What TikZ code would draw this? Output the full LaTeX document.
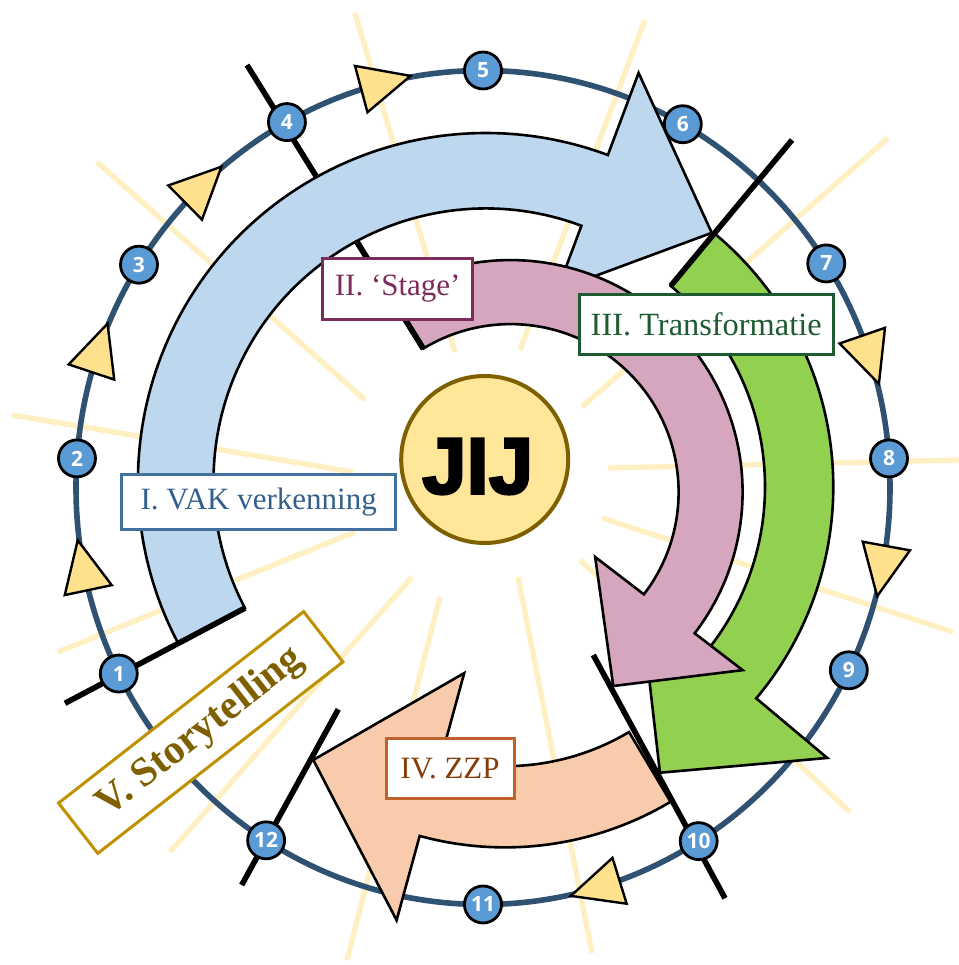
\documentclass[tikz,border=0pt]{standalone}
\usepackage{fontspec}
\setmainfont{Liberation Serif}
\newfontfamily\numfont{Open Sans}
\newfontfamily\jijfont{Liberation Sans}[UprightFont={* Bold}, FakeBold=3]

\definecolor{ringblue}{HTML}{2F5273}
\definecolor{numblue}{HTML}{5B9BD5}
\definecolor{raycol}{HTML}{FFF0C4}
\definecolor{tricol}{HTML}{FFE08C}
\definecolor{vakfill}{HTML}{BDD7EE}
\definecolor{vakline}{HTML}{41719C}
\definecolor{vaktext}{HTML}{335F8C}
\definecolor{stagefill}{HTML}{D5A6BD}
\definecolor{stageline}{HTML}{7B2C5B}
\definecolor{trafill}{HTML}{92D050}
\definecolor{traline}{HTML}{1E5B30}
\definecolor{zzpfill}{HTML}{F8CBAD}
\definecolor{zzpline}{HTML}{C0622B}
\definecolor{zzptext}{HTML}{843C0C}
\definecolor{storyline}{HTML}{BF9000}
\definecolor{storytext}{HTML}{7F6000}
\definecolor{jijfill}{HTML}{FFE699}

\tikzset{
  ray/.style={raycol, line width=2.7pt},
  ring/.style={ringblue, line width=2.8pt},
  tri/.style={fill=tricol, draw=black, line width=1.2pt, line join=miter},
  tick/.style={black, line width=2.8pt},
  band/.style={draw=black, line width=1.3pt, line join=miter},
  num/.style={circle, fill=numblue, draw=black, line width=1.4pt, minimum size=18.5pt,
    inner sep=0pt, text=white, font=\numfont\bfseries\fontsize{10.5}{10.5}\selectfont},
  lbl/.style={rectangle, fill=white, line width=1.5pt, inner sep=0pt,
    font=\fontsize{15.5}{15.5}\selectfont},
  jij/.style={circle, fill=jijfill, draw=storytext, line width=2pt, minimum size=83.5pt,
    inner sep=0pt, font=\jijfont\fontsize{40}{40}\selectfont},
}

\begin{document}
\begin{tikzpicture}[x=0.5pt, y=0.5pt]
\useasboundingbox (0,0) rectangle (959,965);

% sun rays behind everything
\foreach \xa/\ya/\xb/\yb in {353/493/12/550, 365/565/97/803, 455/613/355/952,
    520/615/645/945, 582/558/888/827, 608/497/959/505, 602/447/953/333,
    580/405/850/153, 518/388/592/12, 440/368/347/5, 412/388/170/113, 355/433/58/313}
  \draw[ray] (\xa,\ya) -- (\xb,\yb);

\draw[ring] (483,477.5) ellipse [x radius=407, y radius=417];

\begin{scope}[shift={(483,477.5)}]
  \foreach \a/\n in {206.5/1,176/2,147.7/3,118.8/4,90/5,60.6/6,32.5/7,4/8,-26/9,-58/10,-90/11,-122.2/12}
    \coordinate (c\n) at (\a:407 and 417);
  \foreach \a in {105,134.6,161.6,191.9,19,-10.4,-72.8}
    \draw[tri, shift={(\a:407 and 417)}, rotate=\a-90] (34,0) -- (-17,24) -- (-17,-24) -- cycle;
\end{scope}

\coordinate (t1) at (65,261.7);
\coordinate (t4) at (247,900);
\coordinate (t4m) at (356.5,723.8);
\coordinate (t6) at (792,825);
\coordinate (t10a) at (593.3,310);
\coordinate (t10b) at (725,66.7);
\coordinate (t12a) at (338.3,255.7);
\coordinate (t12b) at (241.7,80);

\draw[tick] (t4) -- (423.3,616.4);

% I. VAK verkenning
\draw[band, fill=vakfill, shift={(486,484)}]
  (207.8:348) arc[start angle=207.8, end angle=69.5, radius=348]
  -- (69.5:435.7) -- (47.7:335.5) -- (69.5:204) -- (69.5:272.5)
  arc[start angle=69.5, end angle=207.8, radius=272.5] coordinate (vak-in) -- cycle;

% III. Transformatie
\draw[band, fill=trafill, shift={(504,478.3)}]
  (50.3:329.3) arc[start angle=50.3, end angle=-40, radius=329.3]
  -- (-40:422) -- (-61.4:325.8) -- (-40:178) -- (-40:261)
  arc[start angle=-40, end angle=50.3, radius=261] coordinate (tra-in) -- cycle;

% II. Stage
\draw[band, fill=stagefill, shift={(510.6,472.9)}]
  (121.3:232) arc[start angle=121.3, end angle=-37.5, radius=232]
  -- (-37.5:292.5) -- (-62.1:219.4) -- (-37.5:106.6) -- (-37.5:168)
  arc[start angle=-37.5, end angle=121.3, radius=168] coordinate (stage-in) -- cycle;

% IV. ZZP
\draw[band, fill=zzpfill, shift={(505,441)}]
  (-59.2:323.4) arc[start angle=-59.2, end angle=-105.3, radius=323.4]
  -- (-105.3:410.8) -- (-129.1:304) -- (-105.3:154.6) -- (-105.3:242.2)
  arc[start angle=-105.3, end angle=-59.2, radius=242.2] -- cycle;

\draw[tick] (t1) -- (vak-in);
\draw[tick] (t4m) -- (stage-in);
\draw[tick] (t6) -- (tra-in);
\draw[tick] (t10a) -- (t10b);
\draw[tick] (t12a) -- (t12b);

\foreach \n in {1,...,12}
  \node[num] (n\n) at (c\n) {\n};

\node[jij] (jij) at (484.7,505.5) {\raisebox{-3.5pt}[\height][\depth]{\kern-3.5pt JIJ\kern3.5pt}};

\node[lbl, draw=vakline, text=vaktext, minimum width=137pt, minimum height=27.6pt] (vak) at (258.7,463.3) {I. VAK verkenning};
\node[lbl, draw=stageline, text=stageline, minimum width=75pt, minimum height=30.5pt] (stage) at (397.7,676.3) {II. `Stage'};
\node[lbl, draw=traline, text=traline, minimum width=127.2pt, minimum height=30.3pt,
  font=\fontsize{16.2}{16.2}\selectfont] (tra) at (706.2,640.3) {III. Transformatie};
\node[lbl, draw=zzpline, text=zzptext, minimum width=64pt, minimum height=29.7pt] (zzp) at (450,196.3) {IV. ZZP};
\node[lbl, draw=storyline, text=storytext, rotate=38, minimum width=155.5pt, minimum height=31.9pt,
  font=\bfseries\fontsize{20.5}{20.5}\selectfont] (story) at (200.7,232.5) {V. Storytelling};
\end{tikzpicture}
\end{document}
